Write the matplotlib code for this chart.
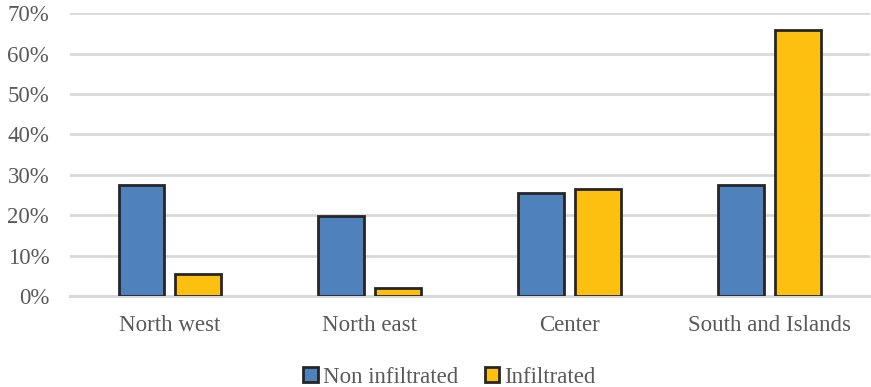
import numpy as np
import matplotlib
matplotlib.use("Agg")
import matplotlib.pyplot as plt
from matplotlib.ticker import PercentFormatter

# regional shares
regions = ["North west", "North east", "Center", "South and Islands"]
non_infiltrated = [27.4, 19.8, 25.5, 27.6]
infiltrated = [5.4, 2.0, 26.5, 65.8]

BLUE = "#4F81BD"
GOLD = "#FDC010"
EDGE = "#262626"
GRID = "#D9D9D9"
TEXT = "#595959"

plt.rcParams["font.family"] = ["Liberation Serif", "DejaVu Serif"]

fig = plt.figure(figsize=(8.71, 3.87), dpi=100)
ax = fig.add_axes([0.0804, 0.235, 0.918, 0.731])

x = np.arange(len(regions))
width = 0.23
gap = 0.055
off = (width + gap) / 2

ax.bar(x - off, non_infiltrated, width, color=BLUE, edgecolor=EDGE,
       linewidth=2.0, label="Non infiltrated", zorder=3)
ax.bar(x + off, infiltrated, width, color=GOLD, edgecolor=EDGE,
       linewidth=2.0, label="Infiltrated", zorder=3)

ax.set_xlim(-0.5, len(regions) - 0.5)
ax.set_ylim(0, 70)
ax.set_yticks(np.arange(0, 71, 10))
ax.yaxis.set_major_formatter(PercentFormatter(decimals=0))
ax.set_xticks(x)
ax.set_xticklabels(regions)

ax.grid(axis="y", color=GRID, linewidth=2.0, zorder=0)
for side in ("top", "right", "left"):
    ax.spines[side].set_visible(False)
ax.spines["bottom"].set_color(GRID)
ax.spines["bottom"].set_linewidth(2.2)
ax.tick_params(axis="both", length=0, labelsize=16.5, labelcolor=TEXT)
ax.tick_params(axis="y", pad=15)
ax.tick_params(axis="x", pad=14)

leg = fig.legend(loc="lower center", ncol=2, frameon=False, fontsize=16.5,
                 bbox_to_anchor=(0.516, -0.055), handlelength=0.65,
                 handleheight=0.65, handletextpad=0.2, columnspacing=1.15)
for t in leg.get_texts():
    t.set_color(TEXT)
for h in leg.legend_handles:
    h.set_linewidth(2.0)

fig.savefig("out.png", dpi=100)
